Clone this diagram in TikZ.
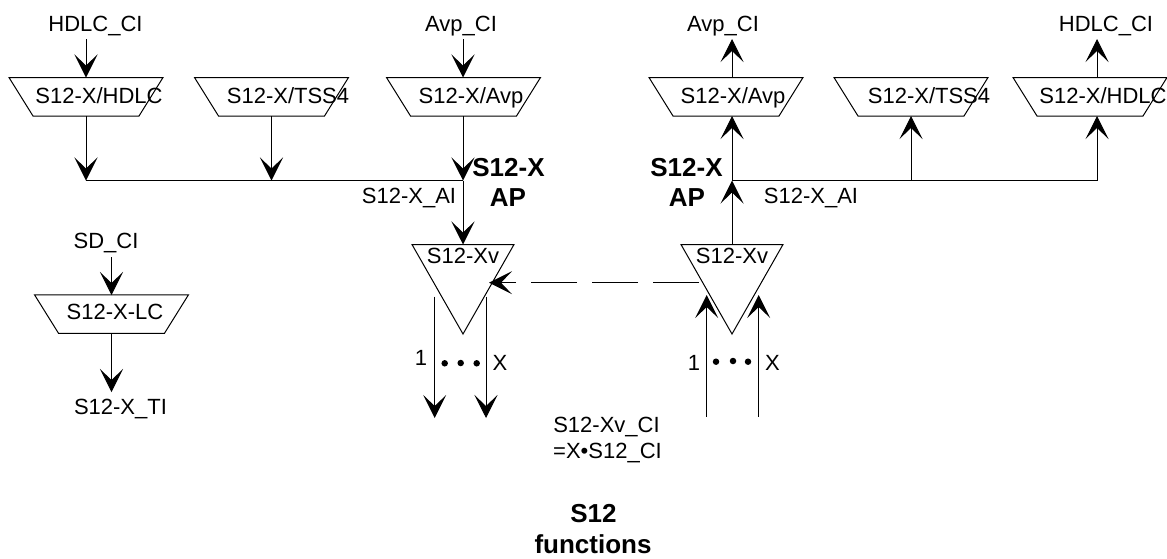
\documentclass[tikz,border=0pt]{standalone}
\usepackage{fontspec}
\setmainfont{Liberation Sans}
\usetikzlibrary{arrows.meta,shapes.geometric,calc}
\tikzset{
  x=1pt,y=-1pt,
  every path/.style={line width=1pt},
  arr/.style={draw,-{Stealth[length=23pt,width=23pt,inset=11pt]}},
  ln/.style={draw},
  trap/.style={rectangle,minimum width=154pt,minimum height=38.5pt,inner sep=0pt,outer sep=0pt},
  vtri/.style={draw,isosceles triangle,isosceles triangle stretches=true,shape border rotate=270,
    minimum width=102pt,minimum height=89.5pt,inner sep=2pt,outer sep=0pt},
  lab/.style={anchor=base,inner sep=0pt,outer sep=0pt,font=\fontsize{22}{24}\selectfont},
  blab/.style={anchor=base,inner sep=0pt,outer sep=0pt,font=\fontsize{26}{28}\selectfont\bfseries},
  dotn/.style={circle,fill=black,inner sep=0pt,minimum size=6.5pt},
}
\newcommand{\trapoutline}[1]{\draw (#1.north west) -- (#1.north east) -- ($(#1.south east)+(-24,0)$) -- ($(#1.south west)+(24,0)$) -- cycle;}
\begin{document}
\begin{tikzpicture}
\useasboundingbox (0,0) rectangle (1167,558);
% trapezia
\node[trap] (tHl) at (86,96.75) {};
\node[trap] (tTl) at (271.5,96.75) {};
\node[trap] (tAl) at (463.5,96.75) {};
\node[trap] (tAr) at (726,96.75) {};
\node[trap] (tTr) at (911,96.75) {};
\node[trap] (tHr) at (1090,96.75) {};
\node[trap] (tLC) at (111.5,314) {};
\trapoutline{tHl}
\trapoutline{tTl}
\trapoutline{tAl}
\trapoutline{tAr}
\trapoutline{tTr}
\trapoutline{tHr}
\trapoutline{tLC}
% triangles
\node[vtri,anchor=north] (vl) at (463,244.5) {\phantom{M}};
\node[vtri,anchor=north] (vr) at (732,244.5) {\phantom{M}};
% texts
\node[lab] (nHCl) at (95.5,31) {HDLC\_CI};
\node[lab] (nACl) at (461,31) {Avp\_CI};
\node[lab] (nACr) at (723,31) {Avp\_CI};
\node[lab] (nHCr) at (1106,31) {HDLC\_CI};
\node[lab] (ntHl) at (99,103) {S12-X/HDLC};
\node[lab] (ntTl) at (288,103) {S12-X/TSS4};
\node[lab] (ntAl) at (471,103) {S12-X/Avp};
\node[lab] (ntAr) at (733,103) {S12-X/Avp};
\node[lab] (ntTr) at (929,103) {S12-X/TSS4};
\node[lab] (ntHr) at (1103,103) {S12-X/HDLC};
\node[blab] (apl1) at (508.5,176.5) {S12-X};
\node[blab] (apl2) at (508,206.5) {AP};
\node[blab] (apr1) at (686.5,176.5) {S12-X};
\node[blab] (apr2) at (687,206.5) {AP};
\node[lab] (ail) at (409,203) {S12-X\_AI};
\node[lab] (air) at (811,203) {S12-X\_AI};
\node[lab] (sd) at (106,248) {SD\_CI};
\node[lab] (ntLC) at (115,319) {S12-X-LC};
\node[lab] (ti) at (120.5,414) {S12-X\_TI};
\node[lab] (ntvl) at (463,263) {S12-Xv};
\node[lab] (ntvr) at (732,263) {S12-Xv};
\node[lab] (n1l) at (421,365) {1};
\node[lab] (nXl) at (500,370.5) {X};
\node[lab] (n1r) at (694,370) {1};
\node[lab] (nXr) at (772.5,370) {X};
\node[lab] (ci1) at (606.5,432) {S12-Xv\_CI};
\node[lab] (ci2) at (607.5,458) {=X•S12\_CI};
\node[blab] (f1) at (593.5,522.5) {S12};
\node[blab] (f2) at (593,553) {functions};
% dots
\node[dotn] (dl1) at (444.7,363.3) {};
\node[dotn] (dl2) at (460.7,363) {};
\node[dotn] (dl3) at (476.7,363.3) {};
\node[dotn] (dr1) at (716,361.7) {};
\node[dotn] (dr2) at (733,361) {};
\node[dotn] (dr3) at (748,361.7) {};
% named connection points
\coordinate (iHl) at (86,39);
\coordinate (iAl) at (463,39);
\coordinate (oAr) at (732,39);
\coordinate (oHr) at (1097,39);
\coordinate (jHl) at (86,180.5);
\coordinate (jTl) at (271.5,180.5);
\coordinate (jAl) at (463,180.5);
\coordinate (jAr) at (732,180.5);
\coordinate (jTr) at (911,180.5);
\coordinate (jHr) at (1097,180.5);
\coordinate (pHlt) at (86,77.5);
\coordinate (pHlb) at (86,116);
\coordinate (pTlb) at (271.5,116);
\coordinate (pAlt) at (463,77.5);
\coordinate (pAlb) at (463,116);
\coordinate (pArt) at (732,77.5);
\coordinate (pArb) at (732,116);
\coordinate (pTrb) at (911,116);
\coordinate (pHrt) at (1097,77.5);
\coordinate (pHrb) at (1097,116);
\coordinate (vlt) at (463,244.5);
\coordinate (vrt) at (732,244.5);
\coordinate (iLC) at (111.5,257);
\coordinate (pLt) at (111.5,295);
\coordinate (pLb) at (111.5,333);
\coordinate (oLC) at (111.5,392);
\coordinate (dS) at (699,282.7);
\coordinate (dE) at (489,282.7);
\coordinate (al1) at (434.7,296.5);
\coordinate (al2) at (434.7,418);
\coordinate (ar1) at (486,296.5);
\coordinate (ar2) at (486,418);
\coordinate (bl1) at (706.7,416.7);
\coordinate (bl2) at (706.7,295);
\coordinate (br1) at (758.7,416.7);
\coordinate (br2) at (758.7,295);
% connectors
\draw[arr] (iHl) -- (pHlt);
\draw[arr] (pHlb) -- (jHl);
\draw[arr] (pTlb) -- (jTl);
\draw[arr] (iAl) -- (pAlt);
\draw[arr] (pAlb) -- (jAl);
\draw[arr] (jAl) -- (vlt);
\draw[ln] (jHl) -- (jAl);
\draw[ln] (jAr) -- (jHr);
\draw[arr] (vrt) -- (jAr);
\draw[arr] (jAr) -- (pArb);
\draw[arr] (pArt) -- (oAr);
\draw[arr] (jTr) -- (pTrb);
\draw[arr] (jHr) -- (pHrb);
\draw[arr] (pHrt) -- (oHr);
\draw[arr] (iLC) -- (pLt);
\draw[arr] (pLb) -- (oLC);
\draw[arr,dash pattern=on 46pt off 15pt] (dS) -- (dE);
\draw[arr] (al1) -- (al2);
\draw[arr] (ar1) -- (ar2);
\draw[arr] (bl1) -- (bl2);
\draw[arr] (br1) -- (br2);
\end{tikzpicture}
\end{document}
